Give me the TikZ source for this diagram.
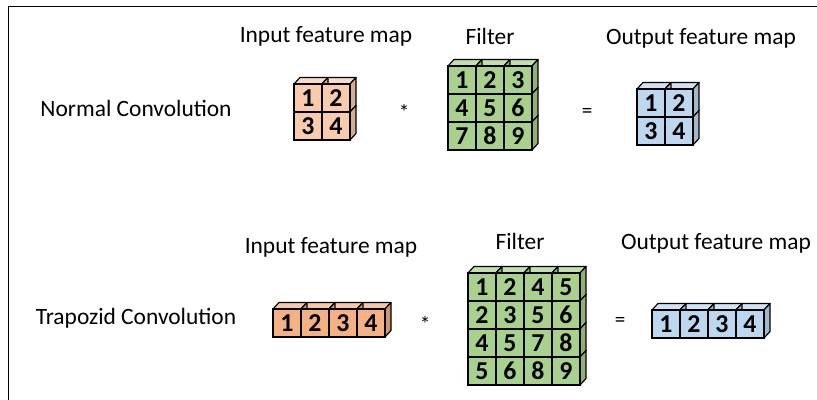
\documentclass[tikz,border=0pt]{standalone}
\usepackage{fontspec}
\setmainfont{Carlito}
\definecolor{peach}{RGB}{248,203,173}
\definecolor{orange}{RGB}{244,177,131}
\definecolor{green}{RGB}{169,209,142}
\definecolor{blue}{RGB}{189,215,238}
\tikzstyle{cell}=[draw=black,line width=1pt,inner sep=0pt,minimum width=0.84cm,minimum height=0.84cm,font=\fontsize{22}{22}\selectfont\bfseries]
\tikzstyle{face}=[draw=black,line width=1pt,line join=round]
\tikzstyle{caption}=[font=\fontsize{20}{20}\selectfont]
\tikzstyle{op}=[font=\fontsize{18}{18}\selectfont]

% name, x, y (top left of front), colour, rows of labels
\newcommand{\cubegrid}[5]{%
  \foreach \row [count=\r from 0] in {#5} {
    \foreach \t [count=\c from 0] in \row {
      \filldraw[face,fill=#4!70!white] (#2+28*\c,#3+28*\r) -- ++(6,-6.5) -- ++(28,0) -- ++(-6,6.5) -- cycle;
    }
  }
  \foreach \row [count=\r from 0] in {#5} {
    \foreach \t [count=\c from 0] in \row {
      \filldraw[face,fill=#4!85!black] (#2+28*\c+28,#3+28*\r) -- ++(6,-6.5) -- ++(0,28) -- ++(-6,6.5) -- cycle;
    }
  }
  \foreach \row [count=\r from 0] in {#5} {
    \foreach \t [count=\c from 0] in \row {
      \node (#1-\r-\c) at (#2+28*\c+14,#3+28*\r+14) [cell,fill=#4] {\t};
    }
  }
}

\begin{document}
\begin{tikzpicture}[x=0.03cm,y=-0.03cm]
		\useasboundingbox (0,0) rectangle (817,400);
		\draw[line width=1.5pt] (8.5,400) -- (8.5,6.5) -- (817,6.5);
		
		% normal convolution
		\node (normal) at (136,108) [caption] {Normal Convolution};
		\node (in1) at (326,36) [caption] {Input feature map};
		\node (filt1) at (490,36) [caption] {Filter};
		\node (out1) at (701,38) [caption] {Output feature map};
		\cubegrid{a}{294}{84}{peach}{{1,2},{3,4}}
		\cubegrid{f}{448}{66}{green}{{1,2,3},{4,5,6},{7,8,9}}
		\cubegrid{b}{637}{89}{blue}{{1,2},{3,4}}
		\node (star1) at (404,112) [op] {*};
		\node (eq1) at (587,113) [op] {=};
		
		% trapozid convolution
		\node (trap) at (136,318) [caption] {Trapozid Convolution};
		\node (in2) at (331,247) [caption] {Input feature map};
		\node (filt2) at (520,241) [caption] {Filter};
		\node (out2) at (716,243) [caption] {Output feature map};
		\cubegrid{c}{273}{309}{orange}{{1,2,3,4}}
		\cubegrid{g}{468}{273}{green}{{1,2,4,5},{2,3,5,6},{4,5,7,8},{5,6,8,9}}
		\cubegrid{d}{652}{310}{blue}{{1,2,3,4}}
		\node (star2) at (425,324) [op] {*};
		\node (eq2) at (620,322) [op] {=};
	\end{tikzpicture}
\end{document}
